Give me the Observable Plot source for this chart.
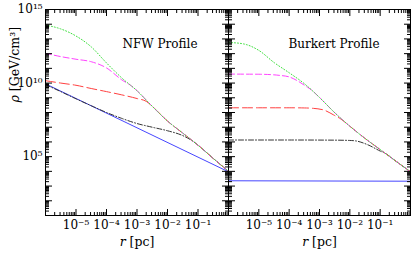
<!DOCTYPE html>
<html>
<head>
<meta charset="utf-8">
<script src="https://cdn.jsdelivr.net/npm/d3@7"></script>
<script src="https://cdn.jsdelivr.net/npm/@observablehq/plot@0.6"></script>
<style>
  html, body { margin: 0; padding: 0; background: white; }
  #chart { position: relative; width: 415px; height: 254px; overflow: hidden; background: white; }
  #chart svg { position: absolute; top: 0; }
</style>
</head>
<body>
<div id="chart"></div>
<script>
// ---- data: [r (pc), rho (GeV/cm^3)] ----
// NFW profile
const nfwGreen = [[1e-6, 8.71e13], [3.16e-6, 4.79e13], [1e-5, 1.58e13], [3.16e-5, 2.88e12], [1e-4, 2.34e11],
  [3.16e-4, 2.24e10], [1e-3, 3.02e9], [3.16e-3, 2.63e8], [1e-2, 2.63e7], [3.16e-2, 3.98e6], [0.1, 6.03e5], [0.316, 7.59e4], [1, 1.0e4]];
const nfwMagenta = [[1e-6, 1.05e12], [3.16e-6, 6.31e11], [1e-5, 4.17e11], [3.16e-5, 2.82e11], [1e-4, 1.07e11],
  [3.16e-4, 1.66e10], [6.31e-4, 6.76e9], [1e-3, 3.02e9], [3.16e-3, 2.63e8], [1e-2, 2.63e7], [3.16e-2, 3.98e6], [0.1, 6.03e5], [0.316, 7.59e4], [1, 1.0e4]];
const nfwRed = [[1e-6, 1.45e10], [3.16e-6, 1.0e10], [1e-5, 7.08e9], [3.16e-5, 4.27e9], [1e-4, 2.63e9],
  [3.16e-4, 1.58e9], [1e-3, 8.91e8], [2e-3, 5.75e8], [3.16e-3, 2.63e8], [1e-2, 2.63e7], [3.16e-2, 3.98e6], [0.1, 6.03e5], [0.316, 7.59e4], [1, 1.0e4]];
const nfwBlack = [[1e-6, 7.94e9], [3.16e-6, 2.63e9], [1e-5, 8.51e8], [3.16e-5, 2.88e8], [1e-4, 1.0e8],
  [3.16e-4, 3.98e7], [1e-3, 1.78e7], [3.16e-3, 1.0e7], [1e-2, 5.75e6], [3.16e-2, 2.69e6], [7.08e-2, 1.05e6], [0.1, 6.03e5], [0.316, 7.59e4], [1, 1.0e4]];
const nfwBlue = [[1e-6, 8.91e9], [1, 9.33e3]];

// Burkert profile
const burGreen = [[1e-6, 5.75e12], [3.16e-6, 4.57e12], [1e-5, 1.66e12], [3.16e-5, 2.51e11], [1e-4, 5.01e10],
  [3.16e-4, 9.12e9], [1e-3, 1.05e9], [3.16e-3, 9.77e7], [1e-2, 1.17e7], [3.16e-2, 1.74e6], [0.1, 3.02e5], [0.316, 5.25e4], [1, 9.33e3]];
const burMagenta = [[1e-6, 4.07e10], [1e-5, 3.98e10], [3.16e-5, 3.63e10], [5.01e-5, 3.31e10], [1e-4, 2.63e10],
  [2e-4, 1.32e10], [3.98e-4, 5.25e9], [5.01e-4, 3.89e9], [1e-3, 1.05e9], [3.16e-3, 9.77e7], [1e-2, 1.17e7], [3.16e-2, 1.74e6], [0.1, 3.02e5], [0.316, 5.25e4], [1, 9.33e3]];
const burRed = [[1e-6, 2.09e8], [1e-5, 2.09e8], [1e-4, 2.09e8], [3.16e-4, 2.04e8], [6.31e-4, 1.91e8],
  [1.38e-3, 1.48e8], [2.95e-3, 6.76e7], [5.01e-3, 3.63e7], [1e-2, 1.17e7], [3.16e-2, 1.74e6], [0.1, 3.02e5], [0.316, 5.25e4], [1, 9.33e3]];
const burBlack = [[1e-6, 1.35e6], [1e-4, 1.35e6], [3.16e-3, 1.32e6], [1e-2, 1.26e6], [1.58e-2, 1.17e6],
  [3.98e-2, 6.31e5], [0.1, 2.40e5], [0.148, 1.66e5], [0.316, 5.25e4], [1, 9.33e3]];
const burBlue = [[1e-6, 2.29e3], [1, 2.14e3]];

// ---- axes ----
const xDomain = [1e-6, 1];
const yDomain = [10, 1e15];
const xLabelTicks = [1e-5, 1e-4, 1e-3, 1e-2, 1e-1];
const xTickLabels = ["10\u207B\u2075", "10\u207B\u2074", "10\u207B\u00B3", "10\u207B\u00B2", "10\u207B\u00B9"];
const yLabelTicks = [1e5, 1e10, 1e15];
const yTickLabels = ["10\u2075", "10\u00B9\u2070", "10\u00B9\u2075"];
const panelTitles = ["NFW Profile", "Burkert Profile"];
const xTitle = "r [pc]";
const yTitle = "\u03C1 [GeV/cm\u00B3]";

function logTicks(lo, hi) {
  const major = [], minor = [];
  for (let e = Math.round(Math.log10(lo)); e <= Math.round(Math.log10(hi)); e++) {
    major.push(Math.pow(10, e));
    if (e < Math.round(Math.log10(hi))) for (let m = 2; m <= 9; m++) minor.push(m * Math.pow(10, e));
  }
  return {major, minor};
}
const xt = logTicks(...xDomain);
const yt = logTicks(...yDomain);

const styles = {
  green:   {stroke: "#3ee03e", strokeDasharray: "1,2"},
  magenta: {stroke: "#ff44ff", strokeDasharray: "6,3"},
  red:     {stroke: "#ff4040", strokeDasharray: "10,4"},
  black:   {stroke: "#333333", strokeDasharray: "5,2,1,2"},
  blue:    {stroke: "#4646ff"}
};

function lineMark(data, st) {
  return Plot.line(data, {x: d => d[0], y: d => d[1], strokeWidth: 1, curve: "monotone-x", ...st});
}

const blank = () => "";
const xLab = d => xTickLabels[xLabelTicks.indexOf(d)];
const yLab = d => yTickLabels[yLabelTicks.indexOf(d)];

function panel(series, title, opts) {
  const marks = [
    lineMark(series.blue, styles.blue),
    lineMark(series.black, styles.black),
    lineMark(series.red, styles.red),
    lineMark(series.magenta, styles.magenta),
    lineMark(series.green, styles.green),
    Plot.frame({stroke: "black"}),
    Plot.axisX({anchor: "bottom", ticks: xt.major, tickSize: -6, tickFormat: blank, label: null}),
    Plot.axisX({anchor: "bottom", ticks: xt.minor, tickSize: -3, tickFormat: blank, label: null}),
    Plot.axisX({anchor: "top", ticks: xt.major, tickSize: -6, tickFormat: blank, label: null}),
    Plot.axisX({anchor: "top", ticks: xt.minor, tickSize: -3, tickFormat: blank, label: null}),
    Plot.axisY({anchor: "left", ticks: yt.major, tickSize: -7, tickFormat: blank, label: null}),
    Plot.axisY({anchor: "left", ticks: yt.minor, tickSize: -4, tickFormat: blank, label: null}),
    Plot.axisY({anchor: "right", ticks: yt.major, tickSize: -7, tickFormat: blank, label: null}),
    Plot.axisY({anchor: "right", ticks: yt.minor, tickSize: -4, tickFormat: blank, label: null}),
    Plot.text(xLabelTicks, {x: d => d, text: xLab, frameAnchor: "bottom", dy: 13, fontSize: 12}),
    Plot.text([title], {text: d => d, frameAnchor: "top-right", textAnchor: "end", dx: -31, dy: 30, fontSize: 12}),
    Plot.text([xTitle], {text: d => d, frameAnchor: "bottom", dy: 30, fontSize: 12.5})
  ];
  if (opts.showY) {
    marks.push(Plot.text(yLabelTicks, {y: d => d, text: yLab, frameAnchor: "left", textAnchor: "end", dx: -3, fontSize: 12}));
    marks.push(Plot.text([yTitle], {text: d => d, frameAnchor: "left", rotate: -90, dx: -31, dy: -10, fontSize: 12.5}));
  }
  return Plot.plot({
    width: opts.width, height: 254,
    marginTop: 9, marginBottom: 39, marginLeft: opts.marginLeft, marginRight: opts.marginRight,
    x: {type: "log", domain: xDomain},
    y: {type: "log", domain: yDomain},
    style: {fontFamily: "DejaVu Serif", fontSize: "11px", background: "transparent", overflow: "visible", color: "black"},
    marks
  });
}

const chart = document.getElementById("chart");
const p1 = panel({green: nfwGreen, magenta: nfwMagenta, red: nfwRed, black: nfwBlack, blue: nfwBlue},
  panelTitles[0], {width: 229, marginLeft: 45, marginRight: 1, showY: true});
const p2 = panel({green: burGreen, magenta: burMagenta, red: burRed, black: burBlack, blue: burBlue},
  panelTitles[1], {width: 189, marginLeft: 2, marginRight: 5, showY: false});
p1.style.left = "0px";
p2.style.left = "226px";
chart.appendChild(p1);
chart.appendChild(p2);

// italicise the variable symbols in the axis titles
function italicFirst(svg, full) {
  d3.select(svg).selectAll("text").each(function () {
    if (this.textContent === full) {
      const t = d3.select(this);
      t.text(null);
      t.append("tspan").attr("font-style", "italic").text(full[0]);
      t.append("tspan").text(full.slice(1));
    }
  });
}
italicFirst(p1, xTitle); italicFirst(p2, xTitle); italicFirst(p1, yTitle);
</script>
</body>
</html>
